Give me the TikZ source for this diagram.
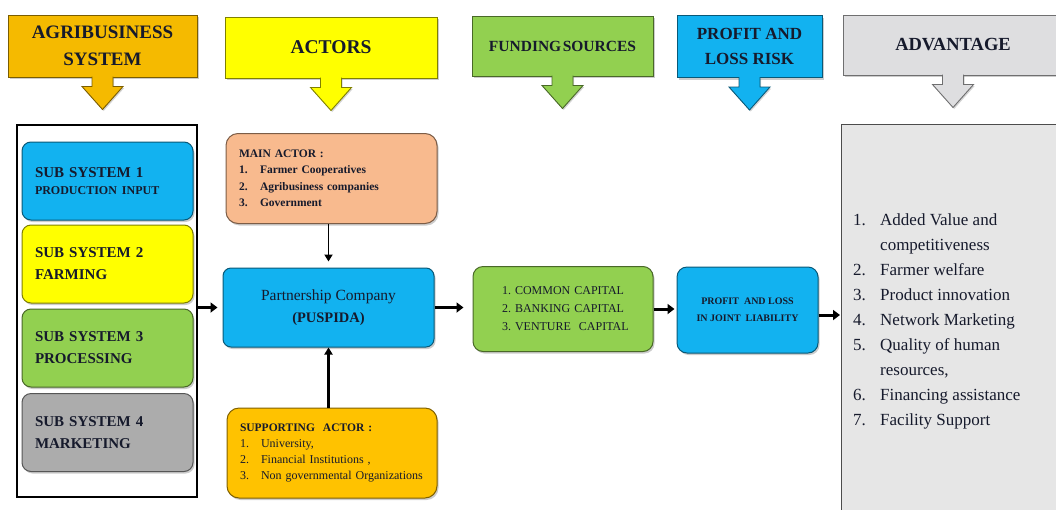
\documentclass[tikz,border=0pt]{standalone}
\usepackage{fontspec}
\setmainfont{Liberation Serif}
\usetikzlibrary{shadows,arrows.meta,calc}

\definecolor{txt}{RGB}{22,26,44}
\definecolor{cOrange}{RGB}{245,186,0}
\definecolor{cYellow}{RGB}{255,255,0}
\definecolor{cGreen}{RGB}{146,208,80}
\definecolor{cCyan}{RGB}{18,178,240}
\definecolor{cLight}{RGB}{222,222,224}
\definecolor{cGray}{RGB}{172,172,172}
\definecolor{cPeach}{RGB}{248,186,142}
\definecolor{cGold}{RGB}{255,194,0}
\definecolor{cAdv}{RGB}{230,230,230}

\newcommand\numitem[2][21pt]{\makebox[#1][l]{#2}}

% block arrow hanging below a header box: #1 node, #2 colour
\newcommand\hangarrow[2]{%
  \draw[draw=#2!50!black, fill=#2, line width=0.9pt, line join=miter,
        drop shadow={shadow xshift=1.2pt,shadow yshift=-1.5pt,opacity=0.35}]
    ($(#1.south)+(-10.5,-1)$) -- ($(#1.south)+(-10.5,9)$) -- ($(#1.south)+(-20.5,9)$)
    -- ($(#1.south)+(0,32)$) -- ($(#1.south)+(20.5,9)$) -- ($(#1.south)+(10.5,9)$)
    -- ($(#1.south)+(10.5,-1)$);
}

\tikzset{
  panel/.style={draw=#1!50!black, fill=#1, line width=1pt,
    drop shadow={shadow xshift=1.5pt,shadow yshift=-2pt,opacity=0.4}},
  header/.style={panel=#1, align=center, text=txt, inner sep=0pt},
  subbox/.style={panel=#1, rounded corners=9pt, minimum width=171pt, minimum height=78pt,
    text width=145pt, inner xsep=13pt, align=left, text=txt,
    font=\bfseries\fontsize{15}{22}\selectfont},
  conn/.style={line width=3pt, -{Triangle[length=7pt,width=10pt]}},
  thinconn/.style={line width=1.8pt, -{Triangle[length=7pt,width=8pt]}},
}

\begin{document}
\begin{tikzpicture}[x=1pt,y=-1pt]
\useasboundingbox (0,0) rectangle (1056,509);
\clip (0,0) rectangle (1056,509);

% column headers
\node[header=cOrange, minimum width=189pt, minimum height=62pt,
      font=\bfseries\fontsize{19}{27}\selectfont] (hAgri) at (102.5,46) {AGRIBUSINESS\\SYSTEM};
\node[header=cYellow, minimum width=212pt, minimum height=61pt,
      font=\bfseries\fontsize{19.5}{27}\selectfont] (hActors) at (331,47.5) {ACTORS};
\node[header=cGreen, minimum width=181pt, minimum height=60pt,
      font=\bfseries\fontsize{15.5}{22}\selectfont] (hFund) at (562.5,46) {FUNDING\hspace{1.5pt}SOURCES};
\node[header=cCyan, minimum width=145pt, minimum height=62pt,
      font=\bfseries\fontsize{17}{25}\selectfont] (hRisk) at (749.5,46.5) {PROFIT AND\\LOSS RISK};
\node[header=cLight, minimum width=220pt, minimum height=60pt,
      font=\bfseries\fontsize{18.5}{25}\selectfont] (hAdv) at (953,45) {ADVANTAGE};

\hangarrow{hAgri}{cOrange}
\hangarrow{hActors}{cYellow}
\hangarrow{hFund}{cGreen}
\hangarrow{hRisk}{cCyan}
\hangarrow{hAdv}{cLight}

% agribusiness subsystems
\node[draw=black, line width=2pt, fill=white, anchor=north west, inner sep=0pt,
      minimum width=180pt, minimum height=372pt] (frame) at (16,124) {};
\node[subbox=cCyan, font=\bfseries\fontsize{15}{17}\selectfont] (sub1) at (107.5,181)
  {SUB SYSTEM 1\\{\fontsize{12}{17}\selectfont PRODUCTION INPUT}};
\node[subbox=cYellow] (sub2) at (107.5,264) {SUB SYSTEM 2\\FARMING};
\node[subbox=cGreen]  (sub3) at (107.5,348) {SUB SYSTEM 3\\PROCESSING};
\node[subbox=cGray]   (sub4) at (107.5,432.5) {SUB SYSTEM 4\\MARKETING};

% actors
\node[panel=cPeach, rounded corners=12pt, minimum width=211pt, minimum height=90pt,
      text width=185pt, inner xsep=13pt, align=left, text=txt,
      font=\bfseries\fontsize{11.5}{16.5}\selectfont] (main) at (331.5,178.5)
  {MAIN ACTOR :\\
   \numitem{1.}Farmer Cooperatives\\
   \numitem{2.}Agribusiness companies\\
   \numitem{3.}Government};
\node[panel=cCyan, rounded corners=8pt, minimum width=211pt, minimum height=79pt,
      align=center, text=txt, font=\fontsize{15.5}{22}\selectfont] (part) at (328.5,307.5)
  {Partnership Company\\{\bfseries\fontsize{14.5}{22}\selectfont (PUSPIDA)}};
\node[panel=cGold, rounded corners=12pt, minimum width=210pt, minimum height=90pt,
      text width=184pt, inner xsep=13pt, align=left, text=txt,
      font=\fontsize{12}{16}\selectfont] (support) at (332,453)
  {{\bfseries\fontsize{11.5}{16}\selectfont SUPPORTING\ \ ACTOR :}\\
   \numitem{1.}University,\\
   \numitem{2.}Financial Institutions ,\\
   \numitem{3.}Non governmental Organizations\\[8pt]};

% funding and risk
\node[panel=cGreen, rounded corners=10pt, minimum width=180pt, minimum height=85pt,
      text width=142pt, inner xsep=19pt, align=left, text=txt,
      font=\fontsize{12}{18}\selectfont] (capital) at (563,309)
  {\hspace*{10pt}\numitem[13pt]{1.}COMMON CAPITAL\\
   \hspace*{10pt}\numitem[13pt]{2.}BANKING CAPITAL\\
   \hspace*{10pt}\numitem[13pt]{3.}VENTURE\ \ CAPITAL};
\node[panel=cCyan, rounded corners=10pt, minimum width=141pt, minimum height=86pt,
      align=center, text=txt, font=\bfseries\fontsize{10}{17}\selectfont] (liab) at (747.5,310)
  {PROFIT\ \ AND LOSS\\IN JOINT\ \ LIABILITY};

% advantages
\node[draw=black!70, line width=1.2pt, fill=cAdv, anchor=north west, inner sep=0pt,
      minimum width=230pt, minimum height=395pt] (adv) at (841,124) {};
\node[anchor=north west, align=left, text=txt, inner sep=0pt,
      font=\fontsize{17}{25}\selectfont] (advlist) at (853,213)
  {\numitem[27pt]{1.}Added Value and\\
   \hspace*{27pt}competitiveness\\
   \numitem[27pt]{2.}Farmer welfare\\
   \numitem[27pt]{3.}Product innovation\\
   \numitem[27pt]{4.}Network Marketing\\
   \numitem[27pt]{5.}Quality of human\\
   \hspace*{27pt}resources,\\
   \numitem[27pt]{6.}Financing assistance\\
   \numitem[27pt]{7.}Facility Support};

% connectors
\draw[conn, line width=2.6pt, shorten >=5pt] (frame.east |- part.west) -- (part.west);
\draw[thinconn, shorten >=6pt] (main.south -| part.north) -- (part.north);
\draw[thinconn, line width=2.6pt] (support.north -| part.south) -- (part.south);
\draw[conn, shorten >=9pt] (part.east) -- (capital.west |- part.east);
\draw[conn, shorten >=2pt] (capital.east) -- (liab.west |- capital.east);
\draw[conn, shorten >=1pt] ($(liab.east)+(0,5)$) -- ($(liab.east -| adv.west)+(0,5)$);
\end{tikzpicture}
\end{document}
